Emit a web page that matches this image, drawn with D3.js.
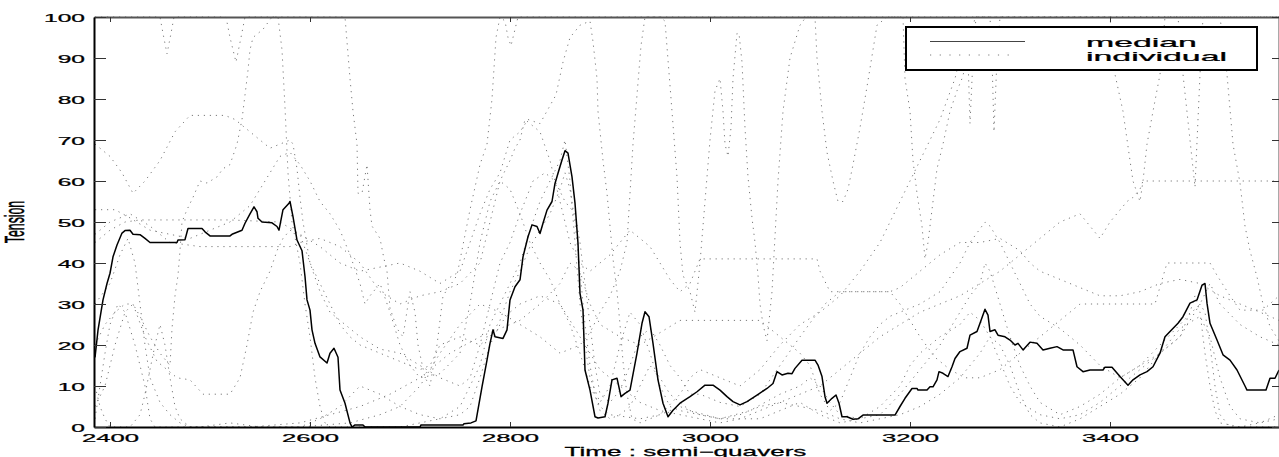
<!DOCTYPE html>
<html><head><meta charset="utf-8">
<script src="https://cdn.jsdelivr.net/npm/d3@7"></script>
<style>
body{margin:0;background:#fff}
svg{display:block}
text{font-family:"Liberation Sans",Arial,Helvetica,sans-serif;fill:#000}
</style>
</head><body>
<svg id="c" width="1279" height="457"></svg>
<script>
// ---------------- data ----------------
const xTicks = [2400, 2600, 2800, 3000, 3200, 3400];
const yTicks = [0, 10, 20, 30, 40, 50, 60, 70, 80, 90, 100];
const xLabel = "Time : semi\u2212quavers";
const yLabel = "Tension";
const legendLabels = ["median", "individual"];

const medianT = [2385,2388,2393,2397,2400,2403,2407,2412,2415,2420,2423,2430,2435,2440,2467,2468,2475,2478,2492,2495,2500,2520,2522,2532,2535,2540,2544,2547,2548,2552,2562,2567,2569,2573,2579,2580,2583,2587,2592,2595,2597,2600,2602,2605,2610,2617,2620,2624,2628,2630,2635,2640,2642,2645,2653,2655,2710,2711,2753,2754,2761,2766,2772,2777,2780,2783,2785,2793,2797,2800,2805,2810,2813,2818,2822,2827,2830,2833,2837,2842,2845,2848,2852,2855,2858,2862,2865,2868,2870,2873,2875,2880,2885,2888,2895,2898,2902,2907,2911,2915,2920,2927,2932,2935,2939,2943,2948,2953,2958,2963,2970,2980,2987,2995,3003,3010,3017,3023,3030,3037,3047,3057,3063,3067,3072,3078,3082,3085,3092,3105,3108,3112,3115,3117,3122,3126,3129,3132,3137,3143,3148,3153,3185,3190,3195,3202,3207,3208,3217,3220,3223,3227,3229,3233,3238,3242,3245,3250,3257,3260,3267,3270,3275,3278,3280,3285,3288,3295,3300,3305,3308,3313,3320,3327,3333,3340,3347,3353,3363,3367,3373,3380,3393,3395,3402,3410,3418,3423,3430,3437,3443,3450,3455,3460,3468,3473,3480,3487,3492,3495,3497,3500,3507,3513,3520,3527,3535,3537,3556,3560,3565,3569];
const medianV = [17,23.6,31,35,37.5,41.5,44.4,47.3,47.9,48,47,46.9,46,45,45,45.6,45.7,48.4,48.4,47.6,46.6,46.6,47,48,49.7,52,53.7,52.5,50.9,50,49.8,48.9,48,53,54.6,55,51.3,45.6,43,36.7,31,28.5,23.7,20.4,17.1,15.6,18,19.2,17,9,5.8,1,0,0.5,0.5,0,0,0.5,0.5,0.8,1,1.5,9.8,16.3,20.4,23.7,22,21.6,23.7,31,34.2,35.9,41.5,46.4,49.3,48.9,47.2,49.7,52.9,55,59.4,61.9,65.1,67.4,66.8,61,54.6,44.8,32.6,28.5,13.9,9,2.5,2.2,2.5,5.8,11.5,11.9,7.4,8.2,9,18,25.3,28.1,26.9,20.4,11.5,5.8,2.5,4.1,5.8,7.4,8.6,10.2,10.2,9,7.4,6.2,5.4,6.2,7.8,9.4,10.6,13.5,12.7,13.1,13,14.3,16.3,16.3,15.1,12.3,7.4,5.8,7,7.8,5.8,2.5,2.5,1.9,2,2.9,2.9,5,7,9.4,9.4,9,9,9.8,9.8,11.5,13.5,13.1,12.3,14.7,16.7,18.4,19.2,22.4,23.3,25.3,28.7,27.3,23.3,23.7,22.4,22,21.2,20,20.4,18.8,20.7,20.4,18.8,19.2,19.6,18.8,18.8,14.7,13.5,13.9,13.9,14.6,14.6,12.3,10.2,11.5,12.7,13.5,14.7,18,22,23.3,25.3,26.9,30.2,31,34.6,35,30.2,25.3,21.2,17.6,16.3,13.9,10,9,9,11.9,11.9,13.9];

const individual1 = [[2385,100],[2450,100],[2453,96],[2457,91],[2461,96],[2464,100],[2516,100],[2520,95],[2526,89],[2531,95],[2535,100],[2568,100],[2572,92],[2575,78],[2578,62],[2582,50],[2586,45],[2590,40],[2595,30],[2600,22],[2605,12],[2610,5],[2615,1],[2620,0],[2690,0],[2710,1],[2730,2],[2750,5],[2770,15],[2780,25],[2790,30],[2800,35],[2810,40],[2820,48],[2830,55],[2840,60],[2850,65],[2855,70],[2860,60],[2865,45],[2870,30],[2875,20],[2880,12],[2890,6],[2900,10],[2910,20],[2920,28],[2930,25],[2940,18],[2950,10],[2960,5],[2970,4],[2990,3],[3010,2],[3030,3],[3050,5],[3070,6],[3090,5],[3110,4],[3130,2],[3150,1],[3170,2],[3190,3],[3210,5],[3230,8],[3250,12],[3270,18],[3280,22],[3290,20],[3300,15],[3310,8],[3320,3],[3330,1],[3350,0],[3370,2],[3390,5],[3410,8],[3430,12],[3450,18],[3470,24],[3490,27],[3500,22],[3510,12],[3520,5],[3530,2],[3550,1],[3569,3]];
const individual2 = [[2385,69],[2400,66],[2412,62],[2423,57],[2435,60],[2450,65],[2465,72],[2480,76],[2515,76],[2525,75],[2540,72],[2560,68],[2580,70],[2583,69],[2587,63],[2590,56],[2593,50],[2600,40],[2610,33],[2620,28],[2635,25],[2650,22],[2670,19],[2690,18],[2710,15],[2730,12],[2750,10],[2760,12],[2770,20],[2780,30],[2790,40],[2800,45],[2810,52],[2823,60],[2835,62],[2845,60],[2855,55],[2865,52],[2870,45],[2875,35],[2880,25],[2885,15],[2890,8],[2900,6],[2910,9],[2920,15],[2930,22],[2940,24],[2950,20],[2960,15],[2970,12],[2980,8],[2990,8],[3010,6],[3030,5],[3050,8],[3070,15],[3090,22],[3105,27],[3115,30],[3130,33],[3180,33],[3190,30],[3200,26],[3210,22],[3225,17],[3240,14],[3255,12],[3270,12],[3290,14],[3310,18],[3330,22],[3350,26],[3370,30],[3390,30],[3445,30],[3457,40],[3500,40],[3507,37],[3520,32],[3530,28.5],[3553,28.5],[3569,32]];
const individual3 = [[2385,5],[2395,10],[2405,20],[2415,28],[2423,30],[2430,27],[2440,22],[2450,18],[2460,15],[2462,24],[2465,32],[2468,37],[2470,43],[2472,50],[2477,53],[2483,56],[2490,60],[2497,59.5],[2507,61],[2513,63],[2520,64],[2527,69],[2532,75],[2535,81],[2538,87],[2540,92],[2543,95],[2553,97],[2562,100],[2635,100],[2640,85],[2643,77],[2647,69],[2648,57],[2652,57],[2657,64],[2660,53],[2662,49],[2670,46],[2674,41],[2677,38],[2680,29],[2687,24],[2693,22],[2700,33],[2705,28],[2708,20],[2715,12],[2720,10],[2727,20],[2733,32],[2747,37],[2760,53],[2770,64],[2777,69],[2782,80],[2786,95],[2790,100],[2795,99],[2798,95],[2801,93],[2804,96],[2808,100],[2950,100],[2955,99],[2962,77],[2967,61],[2970,45],[2973,37],[2980,33],[2985,28],[2990,40],[2995,55],[3000,70],[3005,82],[3010,85],[3013,77],[3015,69],[3018,66],[3021,73],[3023,85],[3027,96],[3029,96],[3032,89],[3035,73],[3038,61],[3042,51],[3045,45],[3048,37],[3050,30],[3053,25],[3057,21],[3062,33],[3068,60],[3073,77],[3080,90],[3090,98],[3096,100],[3105,100],[3107,90],[3112,77],[3117,67],[3123,60],[3128,55],[3133,55],[3138,58],[3143,64],[3150,73],[3157,83],[3163,92],[3167,98],[3177,100],[3193,100],[3195,85],[3200,77],[3203,65],[3207,57],[3212,49],[3215,41],[3218,45],[3222,53],[3227,63],[3233,69],[3240,77],[3247,82],[3252,85],[3258,90],[3265,100],[3400,100],[3405,86],[3413,77],[3420,65],[3423,60],[3430,55],[3433,60],[3437,69],[3443,77],[3450,86],[3455,100],[3569,100]];
const individual4 = [[2385,45],[2400,48],[2415,50],[2430,50.5],[2470,50.5],[2520,50.5],[2570,50],[2590,47],[2610,44],[2630,40],[2650,38],[2670,39],[2690,40],[2710,38],[2730,35],[2750,38],[2760,45],[2770,52],[2780,58],[2790,62],[2800,70],[2810,72],[2818,75],[2830,74],[2846,81],[2853,89],[2860,95],[2870,98],[2880,99],[2883,94],[2887,85],[2888,77],[2893,65],[2897,57],[2900,49],[2903,41],[2907,33],[2910,25],[2913,16],[2917,8],[2922,2],[2930,1],[2950,3],[2970,8],[2980,12],[2990,14],[3010,12],[3030,10],[3050,14],[3070,20],[3090,25],[3110,28],[3130,32],[3150,38],[3170,45],[3190,55],[3210,65],[3230,75],[3245,85],[3255,95],[3258,90],[3260,74],[3263,90],[3266,100],[3280,100],[3282,90],[3284,72],[3287,90],[3290,100],[3468,100],[3473,86],[3480,70],[3485,58.5],[3490,86],[3493,100],[3510,100],[3517,86],[3523,69],[3530,59.5],[3535,49],[3540,43],[3547,36.6],[3553,30],[3560,24.5],[3569,21]];
const individual5 = [[2385,2],[2390,10],[2395,18],[2400,25],[2408,30],[2415,28],[2425,20],[2435,10],[2440,2],[2445,0],[2490,0],[2520,1],[2550,0],[2590,0],[2640,1],[2670,3],[2690,5],[2710,10],[2730,18],[2750,25],[2770,30],[2790,28],[2810,25],[2830,22],[2850,18],[2870,20],[2880,23],[2890,28],[2900,32],[2910,38],[2917,45],[2920,57],[2923,69],[2927,81],[2931,93],[2935,100],[3569,100]];
const individual6 = [[2385,30],[2400,35],[2410,42],[2418,46],[2425,40],[2430,30],[2435,20],[2440,12],[2450,6],[2460,3],[2470,1],[2480,0],[2540,0],[2590,1],[2620,3],[2650,5],[2680,8],[2710,12],[2740,18],[2770,22],[2790,24],[2810,26],[2830,30],[2850,35],[2860,40],[2870,38],[2880,30],[2890,25],[2910,22],[2930,20],[2950,23],[2970,26],[2980,26],[3050,26],[3060,24],[3070,22],[3080,20],[3090,18],[3100,15],[3110,8],[3120,4],[3130,6],[3140,12],[3150,18],[3160,22],[3170,25],[3180,27],[3190,28],[3210,30],[3230,33],[3250,40],[3260,45],[3275,50],[3280,49],[3290,45],[3300,40],[3310,35],[3320,30],[3330,27],[3350,24],[3370,20],[3390,15],[3410,12],[3430,15],[3450,20],[3470,25],[3490,30],[3500,35],[3510,30],[3530,25],[3550,22],[3569,20]];
const individual7 = [[2385,47],[2400,50],[2420,52],[2440,49],[2460,45],[2490,44],[2520,44],[2550,44],[2580,44],[2590,45],[2610,46],[2630,44],[2650,40],[2670,33],[2690,30],[2710,32],[2730,33],[2750,35],[2770,40],[2780,50],[2790,60],[2800,65],[2805,68],[2810,70],[2815,75],[2820,74],[2830,72],[2840,65],[2850,55],[2860,45],[2870,40],[2880,38],[2890,40],[2900,42],[2910,45],[2920,48],[2930,46],[2940,44],[2950,40],[2960,36],[2970,33],[2980,35],[2990,41],[3107,41],[3110,38],[3120,33],[3130,33],[3180,33],[3190,34],[3210,38],[3230,42],[3250,45],[3270,45],[3290,46],[3310,43],[3320,40],[3330,38],[3350,36],[3370,34],[3390,32],[3410,32],[3430,33],[3450,35],[3470,36],[3490,35],[3510,32],[3530,30],[3550,28],[3569,26]];
const individual8 = [[2385,20],[2395,25],[2405,28],[2415,30],[2423,30],[2435,22],[2447,16],[2467,12],[2480,11.5],[2493,8],[2520,8],[2530,12],[2537,20],[2543,28],[2550,33],[2560,38],[2567,43],[2573,46],[2580,48],[2590,47],[2600,40],[2610,35],[2620,30],[2630,25],[2640,22],[2650,20],[2670,18],[2690,16],[2710,14],[2720,15],[2730,20],[2750,22],[2770,20],[2780,22],[2790,26],[2800,33],[2810,38],[2820,44],[2830,48],[2840,52],[2850,58],[2855,62],[2860,58],[2865,50],[2870,38],[2875,25],[2880,15],[2885,8],[2890,4],[2900,2],[2910,3],[2920,5],[2930,10],[2940,15],[2950,12],[2960,8],[2970,6],[2980,4],[3010,2],[3040,4],[3070,8],[3090,10],[3100,12],[3110,10],[3120,6],[3130,3],[3150,2],[3170,3],[3190,8],[3210,14],[3230,20],[3240,24],[3250,28],[3260,32],[3270,35],[3275,40],[3280,38],[3290,30],[3300,22],[3310,15],[3320,10],[3330,6],[3350,3],[3370,5],[3390,8],[3410,12],[3430,15],[3450,18],[3470,22],[3480,26],[3490,30],[3495,28],[3500,20],[3505,10],[3510,3],[3520,0],[3569,0]];
const individual9 = [[2385,53],[2405,53],[2420,51],[2440,48],[2460,47],[2480,46],[2500,48],[2520,50],[2540,54],[2550,58],[2560,62],[2570,66],[2580,67],[2590,64],[2600,60],[2610,55],[2620,52],[2630,48],[2640,42],[2650,35],[2655,30],[2660,32],[2670,35],[2680,28],[2690,20],[2700,15],[2710,12],[2730,13],[2750,18],[2760,30],[2770,45],[2780,55],[2790,60],[2800,58],[2810,52],[2820,45],[2830,40],[2840,36],[2850,30],[2860,26],[2870,22],[2880,18],[2890,14],[2910,10],[2930,6],[2950,4],[2970,3],[2990,2],[3010,1],[3030,2],[3050,4],[3070,6],[3090,8],[3110,10],[3130,14],[3150,18],[3170,22],[3190,25],[3210,28],[3230,30],[3250,32],[3270,35],[3290,38],[3310,42],[3330,46],[3350,50],[3370,52],[3390,46],[3400,50],[3417,55],[3423,56],[3430,58],[3433,60],[3569,60]];
const individual10 = [[2385,10],[2390,5],[2395,2],[2400,0],[2420,0],[2430,3],[2435,8],[2440,14],[2445,20],[2450,25],[2455,20],[2460,12],[2465,5],[2470,2],[2480,0],[2590,0],[2610,2],[2630,5],[2650,10],[2670,8],[2690,5],[2710,3],[2730,2],[2750,3],[2760,5],[2770,12],[2780,20],[2790,25],[2800,28],[2810,30],[2830,32],[2850,30],[2860,25],[2870,18],[2880,10],[2890,5],[2900,3],[2930,2],[2950,3],[2970,5],[2990,3],[3010,2],[3050,2],[3070,4],[3090,6],[3110,3],[3130,1],[3150,2],[3170,5],[3190,10],[3200,15],[3210,18],[3230,22],[3250,25],[3260,28],[3270,26],[3280,22],[3290,16],[3300,10],[3310,6],[3330,3],[3350,2],[3370,3],[3390,6],[3410,10],[3430,14],[3450,18],[3470,22],[3480,28],[3485,32],[3490,28],[3495,18],[3500,10],[3505,4],[3510,1],[3530,0],[3569,2]];
const individuals = [individual1, individual2, individual3, individual4, individual5, individual6, individual7, individual8, individual9, individual10];

// ---------------- chart ----------------
const svg = d3.select("#c");
const L = 94, R = 1279, T = 17, B = 427;
const x = d3.scaleLinear().domain([2384, 3569]).range([L, R]);
const y = d3.scaleLinear().domain([0, 100]).range([B, T]);
const FONT = '"Liberation Sans",Arial,sans-serif';

svg.append("defs").append("clipPath").attr("id", "clip")
  .append("rect").attr("x", L).attr("y", T - 2).attr("width", R - L).attr("height", B - T + 2);

const plot = svg.append("g").attr("clip-path", "url(#clip)");
const line = d3.line().x(d => x(d[0])).y(d => y(d[1]));

plot.selectAll("path.ind").data(individuals).join("path")
  .attr("class", "ind")
  .attr("d", line)
  .attr("fill", "none")
  .attr("stroke", "#7a7a7a")
  .attr("stroke-width", 1)
  .attr("stroke-dasharray", "1.2,4.8");

const medianData = medianT.map((t, i) => [t, medianV[i]]);
plot.append("path").datum(medianData)
  .attr("d", line).attr("fill", "none")
  .attr("stroke", "#000").attr("stroke-width", 1.5).attr("stroke-linejoin", "round");

// axes
const gB = svg.append("g").attr("transform", `translate(0,${B})`)
  .call(d3.axisBottom(x).tickValues(xTicks).tickSizeInner(-5).tickSizeOuter(0).tickPadding(7).tickFormat(d3.format("d")));
const gT = svg.append("g").attr("transform", `translate(0,${T})`)
  .call(d3.axisTop(x).tickValues(xTicks).tickSizeInner(-5).tickSizeOuter(0).tickFormat(""));
const gL = svg.append("g").attr("transform", `translate(${L},0)`)
  .call(d3.axisLeft(y).tickValues(yTicks).tickSizeInner(-12).tickSizeOuter(0).tickPadding(0).tickFormat(d3.format("d")));
const gR = svg.append("g").attr("transform", `translate(${R},0)`)
  .call(d3.axisRight(y).tickValues(yTicks).tickSizeInner(-7).tickSizeOuter(0).tickFormat(""));

[gB, gT, gL, gR].forEach(g => {
  g.selectAll(".tick line").attr("stroke", "#333").attr("stroke-width", 1);
  g.select(".domain").attr("stroke", "#000").attr("stroke-width", 2);
});
gT.select(".domain").attr("stroke", "#555");
gR.select(".domain").attr("stroke", "#555");

function styleText(sel, size) {
  sel.attr("font-size", size).attr("fill", "#000").attr("font-family", FONT)
     .attr("stroke", "#000").attr("stroke-width", 0.25);
}
// horizontal stretch needed so a text reaches the width it has in the reference
function stretchFor(node, targetW) {
  const w = node.getBBox().width;
  return w > 0 ? targetW / w : 2.2;
}

gB.selectAll(".tick text").call(styleText, 11.6);
gL.selectAll(".tick text").call(styleText, 11.3).attr("dy", "0.36em");
const sxTick = stretchFor(gB.select(".tick text").node(), 57);   // "2400" is ~57px wide
gB.selectAll(".tick text").attr("transform", `scale(${sxTick},1)`);
const sxY = stretchFor(gL.selectAll(".tick text").filter(d => d === 100).node(), 41); // "100" ~41px
gL.selectAll(".tick text").attr("x", -9 / sxY).attr("transform", `scale(${sxY},1)`);

// axis titles
const xt = svg.append("text")
  .attr("text-anchor", "middle")
  .call(styleText, 12)
  .text(xLabel);
const sxTitle = stretchFor(xt.node(), 242);
xt.attr("transform", `translate(${(L + R) / 2 - 1},455.5) scale(${sxTitle},1)`);

svg.append("text")
  .attr("transform", `translate(24,${(T + B) / 2}) scale(${sxTick},1) rotate(-90)`)
  .attr("text-anchor", "middle")
  .call(styleText, 12.3)
  .text(yLabel);

// legend
const lg = svg.append("g");
lg.append("rect").attr("x", 906).attr("y", 27).attr("width", 351).attr("height", 43)
  .attr("fill", "#fff").attr("stroke", "#000").attr("stroke-width", 2);
lg.append("line").attr("x1", 930).attr("x2", 1025).attr("y1", 41.5).attr("y2", 41.5)
  .attr("stroke", "#444").attr("stroke-width", 1);
lg.append("line").attr("x1", 930).attr("x2", 1017).attr("y1", 55).attr("y2", 55)
  .attr("stroke", "#7a7a7a").attr("stroke-width", 1).attr("stroke-dasharray", "1.2,8.5");
const lt = lg.selectAll("text.lt").data(legendLabels).join("text")
  .attr("class", "lt")
  .call(styleText, 12.6)
  .text(d => d);
const sxLeg = stretchFor(lt.filter(d => d === "individual").node(), 141);
lt.attr("transform", (d, i) => `translate(1086,${46.6 + i * 14.8}) scale(${sxLeg},1)`);
</script>
</body></html>
